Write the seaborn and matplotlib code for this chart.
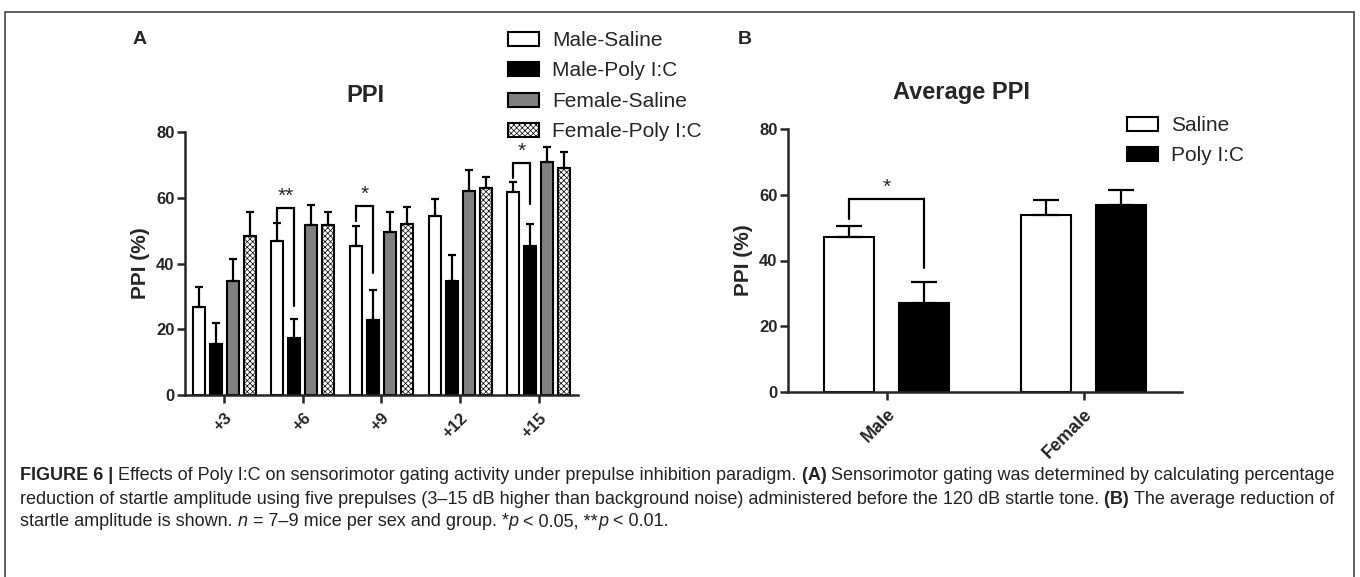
import numpy as np
import pandas as pd
import matplotlib
matplotlib.use("Agg")
import matplotlib.pyplot as plt
import matplotlib.patches as mpatches
import seaborn as sns

W, H = 1360, 577

# --- panel A: PPI per prepulse ---
prepulse = ["+3", "+6", "+9", "+12", "+15"]
groups = ["Male-Saline", "Male-Poly I:C", "Female-Saline", "Female-Poly I:C"]
male_saline = [26.9, 46.7, 45.4, 54.3, 61.6]
male_saline_sem = [5.9, 5.7, 5.9, 5.4, 3.1]
male_poly = [15.5, 17.2, 22.8, 34.7, 45.2]
male_poly_sem = [6.5, 5.8, 9.2, 7.9, 6.8]
female_saline = [34.7, 51.6, 49.7, 62.1, 71.0]
female_saline_sem = [6.7, 6.3, 6.1, 6.4, 4.4]
female_poly = [48.4, 51.8, 52.0, 63.0, 69.2]
female_poly_sem = [7.3, 3.9, 5.3, 3.4, 4.6]
group_colors = ["white", "black", "#808080", "white"]
# (prepulse index, left leg bottom, bracket top, right leg bottom, label)
sig_a = [(1, 53.0, 57.0, 27.0, "**"), (2, 53.0, 57.6, 37.0, "*"), (4, 66.0, 70.6, 58.0, "*")]

# --- panel B: average PPI ---
sexes = ["Male", "Female"]
treatments = ["Saline", "Poly I:C"]
saline_avg = [47.0, 53.7]
saline_sem = [3.6, 4.8]
poly_avg = [27.0, 57.0]
poly_sem = [6.5, 4.3]
treat_colors = ["white", "black"]
sig_b = [(0, 52.6, 58.7, 37.7, "*")]

sns.set_style("ticks")
plt.rcParams["font.family"] = ["Liberation Sans", "DejaVu Sans"]
plt.rcParams["hatch.linewidth"] = 0.5

fig = plt.figure(figsize=(W / 100, H / 100), dpi=100)


def px_axes(l, t, r, b):
    return fig.add_axes([l / W, 1 - b / H, (r - l) / W, (b - t) / H])


def style_axis(ax, xlabels, xsize, xpad):
    sns.despine(ax=ax)
    for s in ["left", "bottom"]:
        ax.spines[s].set_linewidth(1.8)
    ax.set_ylim(0, 80)
    ax.set_yticks([0, 20, 40, 60, 80])
    ax.tick_params(axis="both", length=6, width=1.8, pad=1.5, labelsize=12)
    ax.tick_params(axis="x", pad=xpad)
    ax.set_xticks(range(len(xlabels)))
    ax.set_xticklabels(xlabels, rotation=45, ha="right", rotation_mode="anchor",
                       fontweight="bold", fontsize=xsize)
    for lab in ax.get_yticklabels():
        lab.set_fontweight("bold")
    ax.set_xlabel("")
    ax.set_ylabel("PPI (%)", fontsize=15, fontweight="bold")


def add_errors(ax, bars, sems, capsize):
    for cont, err in zip(bars, sems):
        xs = [p.get_x() + p.get_width() / 2 for p in cont.patches]
        ys = [p.get_height() for p in cont.patches]
        ax.errorbar(xs, ys, yerr=[np.zeros(len(err)), err], fmt="none", ecolor="black",
                    elinewidth=1.6, capsize=capsize, capthick=1.6, zorder=1)


def add_brackets(ax, bars, sigs, star_size):
    for i, lo_left, top, lo_right, lab in sigs:
        pl = bars[0].patches[i]
        pr = bars[1].patches[i]
        xl = pl.get_x() + pl.get_width() / 2
        xr = pr.get_x() + pr.get_width() / 2
        ax.plot([xl, xl, xr, xr], [lo_left, top, top, lo_right], color="black", lw=1.6,
                solid_joinstyle="miter", clip_on=False)
        ax.text((xl + xr) / 2, top + 0.6, lab, ha="center", va="bottom", fontsize=star_size)


# Panel A
df_a = pd.DataFrame({
    "prepulse": prepulse * 4,
    "group": np.repeat(groups, len(prepulse)),
    "ppi": male_saline + male_poly + female_saline + female_poly,
})
ax_a = px_axes(185, 132, 578, 395)
sns.barplot(data=df_a, x="prepulse", y="ppi", hue="group", order=prepulse, hue_order=groups,
            palette=group_colors, errorbar=None, width=0.864, gap=0.3, edgecolor="black",
            linewidth=1.5, legend=False, ax=ax_a)
bars_a = list(ax_a.containers)
for p in bars_a[3].patches:
    p.set_hatch("xxxxxx")
ax_a.set_xlim(-0.5, 4.5)
add_errors(ax_a, bars_a, [male_saline_sem, male_poly_sem, female_saline_sem, female_poly_sem], 2.9)
add_brackets(ax_a, bars_a, sig_a, 15)
style_axis(ax_a, prepulse, 12, 5)
ax_a.yaxis.set_label_coords(-(185 - 150) / 393, 0.5)
ax_a.legend(handles=bars_a, labels=groups, loc="upper left",
            bbox_to_anchor=(508 / W, 1 - 31 / H), bbox_transform=fig.transFigure,
            frameon=False, handlelength=1.5, handleheight=0.65, handletextpad=0.6,
            labelspacing=0.55, borderpad=0, borderaxespad=0, fontsize=15)

# Panel B
df_b = pd.DataFrame({
    "sex": sexes * 2,
    "treatment": np.repeat(treatments, len(sexes)),
    "ppi": saline_avg + poly_avg,
})
ax_b = px_axes(788, 129, 1182, 392)
sns.barplot(data=df_b, x="sex", y="ppi", hue="treatment", order=sexes, hue_order=treatments,
            palette=treat_colors, errorbar=None, width=0.762, gap=0.333, edgecolor="black",
            linewidth=1.5, legend=False, ax=ax_b)
bars_b = list(ax_b.containers)
ax_b.set_xlim(-0.5, 1.5)
add_errors(ax_b, bars_b, [saline_sem, poly_sem], 9.4)
add_brackets(ax_b, bars_b, sig_b, 15)
style_axis(ax_b, sexes, 13, 4)
ax_b.yaxis.set_label_coords(-(788 - 753) / 394, 0.5)
ax_b.legend(handles=bars_b, labels=treatments, loc="upper left",
            bbox_to_anchor=(1127 / W, 1 - 116 / H), bbox_transform=fig.transFigure,
            frameon=False, handlelength=1.5, handleheight=0.65, handletextpad=0.6,
            labelspacing=0.55, borderpad=0, borderaxespad=0, fontsize=15)

# titles and panel letters
fig.text(365 / W, 1 - 96 / H, "PPI", ha="center", va="center", fontsize=17, fontweight="bold")
fig.text(961 / W, 1 - 92 / H, "Average PPI", ha="center", va="center", fontsize=17,
         fontweight="bold")
fig.text(140 / W, 1 - 39 / H, "A", ha="center", va="center", fontsize=14, fontweight="bold")
fig.text(745 / W, 1 - 39 / H, "B", ha="center", va="center", fontsize=14, fontweight="bold")

# caption
caption = [
    [("FIGURE 6 | ", {"fontweight": "bold"}),
     ("Effects of Poly I:C on sensorimotor gating activity under prepulse inhibition paradigm. ", {}),
     ("(A) ", {"fontweight": "bold"}),
     ("Sensorimotor gating was determined by calculating percentage", {})],
    [("reduction of startle amplitude using five prepulses (3–15 dB higher than background noise) "
      "administered before the 120 dB startle tone. ", {}),
     ("(B) ", {"fontweight": "bold"}),
     ("The average reduction of", {})],
    [("startle amplitude is shown. ", {}), ("n", {"fontstyle": "italic"}),
     (" = 7–9 mice per sex and group. *", {}), ("p", {"fontstyle": "italic"}),
     (" < 0.05, **", {}), ("p", {"fontstyle": "italic"}), (" < 0.01.", {})],
]
renderer = fig.canvas.get_renderer()
for y, runs in zip([475, 499, 522], caption):
    x = 20
    for s, kw in runs:
        t = fig.text(x / W, 1 - y / H, s, ha="left", va="center", fontsize=13,
                     color="#222222", **kw)
        x += t.get_window_extent(renderer).width

# frame around the figure
fig.patches.append(mpatches.Rectangle((5 / W, -0.05), 1349 / W, 1.05 - 12 / H,
                                      transform=fig.transFigure, fill=False,
                                      edgecolor="#444444", lw=1.2))

fig.savefig("out.png", dpi=100)
